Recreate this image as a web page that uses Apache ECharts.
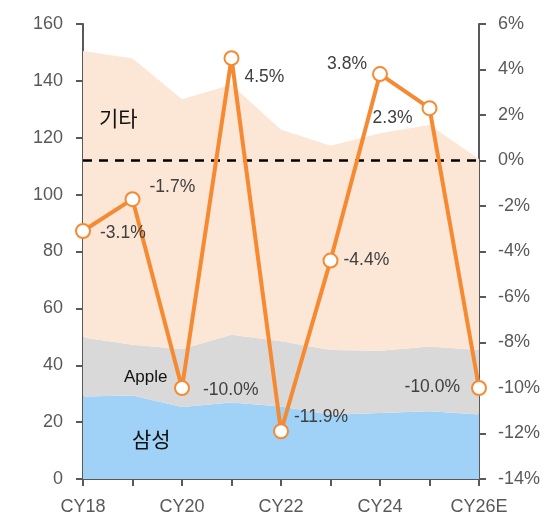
<!DOCTYPE html>
<html lang="ko">
<head>
  <meta charset="UTF-8">
  <title>chart</title>
  <script src="https://cdn.jsdelivr.net/npm/echarts@6/dist/echarts.min.js"></script>
  <style>
    html, body { margin: 0; padding: 0; background: #fff; }
    #main { width: 554px; height: 523px; }
  </style>
</head>
<body>
  <div id="main"></div>
  <script>
    // 데이터
    var years = ["CY18","CY19","CY20","CY21","CY22","CY23","CY24","CY25","CY26E"];
    var samsung = [29.0, 29.4, 25.3, 26.9, 25.5, 22.6, 23.2, 23.8, 22.7];
    var apple = [20.8, 17.8, 20.4, 23.8, 22.9, 22.8, 21.9, 22.8, 22.7];
    var others = [100.7, 100.7, 87.8, 87.9, 74.4, 71.8, 76.5, 77.9, 67.1];
    var growth = [-3.1, -1.7, -10.0, 4.5, -11.9, -4.4, 3.8, 2.3, -10.0];
    var leftTicks = [0, 160, 20];   // min, max, interval
    var rightTicks = [-14, 6, 2];

    // 라벨 위치 (점마다 다름)
    var labelPos = [
      {position: "right", offset: [4, 2]},
      {position: "right", offset: [4, -12]},
      {position: "right", offset: [8, 2]},
      {position: "right", offset: [0, 19]},
      {position: "right", offset: [0, -14]},
      {position: "right", offset: [0, 0]},
      {position: "left", offset: [0, -10]},
      {position: "left", offset: [-4, 10]},
      {position: "left", offset: [-6, -1]}
    ];

    var axisGray = "#595959";
    var font = "'Liberation Sans', Arial, sans-serif";
    var cjk = "'Noto Sans CJK KR', sans-serif";

    var lineData = growth.map(function (v, i) {
      return {value: v, label: labelPos[i]};
    });

    var mychart = echarts.init(document.getElementById("main"));
    var option = {
      backgroundColor: "#fff",
      animation: false,
      grid: {left: 83, right: 75, top: 24, bottom: 44},
      xAxis: {
        type: "category",
        data: years,
        boundaryGap: false,
        axisLine: {lineStyle: {color: axisGray, width: 2}},
        axisTick: {show: true, interval: 0, length: 7, lineStyle: {color: axisGray, width: 2}},
        axisLabel: {interval: 1, color: axisGray, fontSize: 18, fontFamily: font, margin: 19},
        splitLine: {show: false}
      },
      yAxis: [
        {
          type: "value",
          min: leftTicks[0], max: leftTicks[1], interval: leftTicks[2],
          axisLine: {show: true, lineStyle: {color: axisGray, width: 2}},
          axisTick: {show: true, length: 7, lineStyle: {color: axisGray, width: 2}},
          axisLabel: {color: axisGray, fontSize: 18, fontFamily: font, margin: 20},
          splitLine: {show: false}
        },
        {
          type: "value",
          min: rightTicks[0], max: rightTicks[1], interval: rightTicks[2],
          position: "right",
          axisLine: {show: true, lineStyle: {color: axisGray, width: 2}},
          axisTick: {show: true, length: 7, lineStyle: {color: axisGray, width: 2}},
          axisLabel: {color: axisGray, fontSize: 18, fontFamily: font, margin: 19, formatter: "{value}%"},
          splitLine: {show: false}
        }
      ],
      series: [
        {
          name: "삼성", type: "line", stack: "share", data: samsung,
          symbol: "none", lineStyle: {width: 0}, areaStyle: {color: "#A0D1F7", opacity: 1}, z: 1
        },
        {
          name: "Apple", type: "line", stack: "share", data: apple,
          symbol: "none", lineStyle: {width: 0}, areaStyle: {color: "#D9D9D9", opacity: 1}, z: 1
        },
        {
          name: "기타", type: "line", stack: "share", data: others,
          symbol: "none", lineStyle: {width: 0}, areaStyle: {color: "#FCE6D5", opacity: 1}, z: 1
        },
        {
          name: "성장률", type: "line", yAxisIndex: 1, data: lineData,
          symbol: "circle", symbolSize: 14,
          itemStyle: {color: "#fff", borderColor: "#F68A33", borderWidth: 2},
          lineStyle: {color: "#F68A33", width: 4},
          label: {show: true, color: "#404040", fontSize: 17.5, fontFamily: font,
            formatter: function (p) { return p.value.toFixed(1) + "%"; }},
          markLine: {
            silent: true, symbol: "none",
            label: {show: false},
            lineStyle: {color: "#000", type: [9, 7], width: 2.5},
            data: [{yAxis: 0}]
          },
          z: 5
        }
      ],
      graphic: [
        {type: "text", z: 100, left: 99, top: 108, style: {text: "기타", fontSize: 21, fill: "#111", fontFamily: cjk}},
        {type: "text", z: 100, left: 124, top: 369, style: {text: "Apple", fontSize: 17, fill: "#111", fontFamily: font}},
        {type: "text", z: 100, left: 132, top: 429, style: {text: "삼성", fontSize: 21, fill: "#111", fontFamily: cjk}}
      ]
    };
    mychart.setOption(option);
  </script>
</body>
</html>
